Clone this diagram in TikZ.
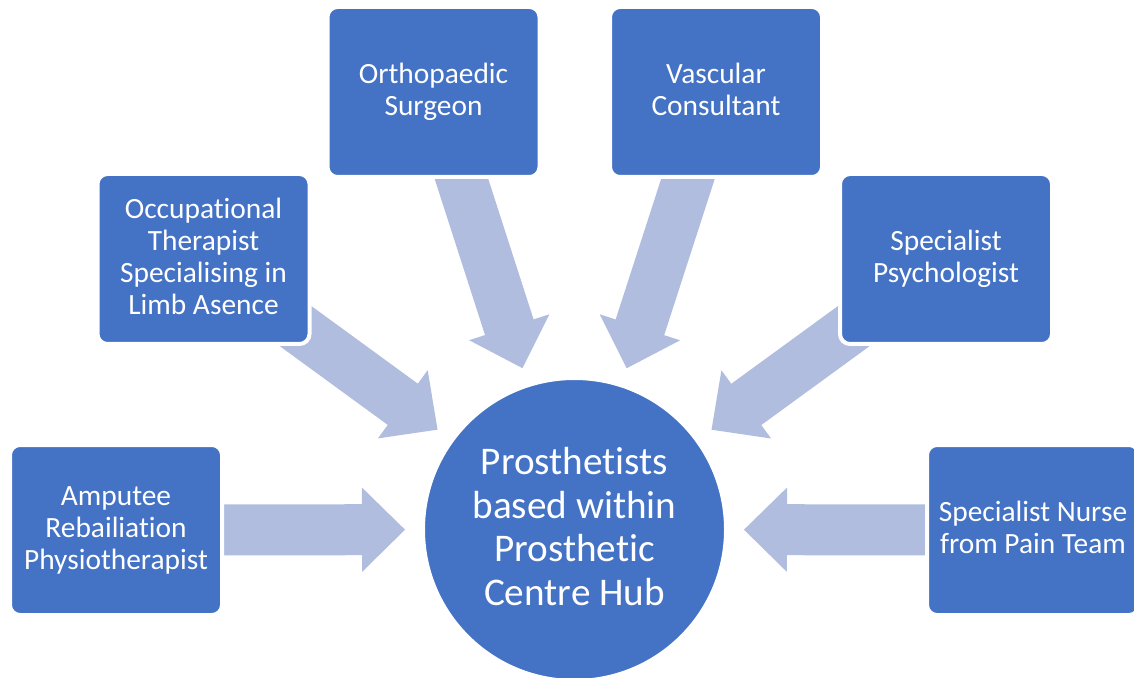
\documentclass[tikz,border=0pt]{standalone}
\usepackage{fontspec}
\setmainfont{Carlito}[Ligatures={NoCommon,NoRequired,NoContextual}]
\usetikzlibrary{arrows.meta}
\pgfdeclarelayer{background}
\pgfsetlayers{background,main}
\definecolor{boxblue}{HTML}{4472C4}
\definecolor{feedblue}{RGB}{176,189,223}
\newcommand{\capstrut}{\vrule height 0.8em depth 0.16em width 0pt}
\tikzset{
  staff/.style={rectangle, rounded corners=5pt, fill=boxblue, draw=white, line width=2pt,
    minimum width=106pt, minimum height=85pt, inner sep=0pt, outer sep=0pt,
    text=white, align=center, font=\fontsize{14.7}{16}\selectfont,
    execute at begin node=\capstrut, execute at end node=\capstrut},
  hub/.style={circle, fill=boxblue, draw=white, line width=2pt, minimum size=151.5pt,
    inner sep=0pt, outer sep=0pt, text=white, align=center,
    font=\fontsize{19.6}{21.75}\selectfont,
    execute at begin node=\capstrut, execute at end node=\capstrut},
  feed/.style={draw=feedblue, line width=25.5pt, shorten <=-10pt, shorten >=9pt,
    -{Triangle[length=21.5pt,width=42pt,line width=1pt]}}
}
\begin{document}
\begin{tikzpicture}[x=0.5pt,y=-0.5pt]
  \useasboundingbox (0,0) rectangle (1134,678);
  % hub and the team round it
  \node[hub] (hub) at (574.5,529.5) {Prosthetists\\based within\\Prosthetic\\Centre Hub};
  \node[staff] (amp) at (116,530) {Amputee\\Rebailiation\\Physiotherapist};
  \node[staff] (occ) at (203.5,259) {Occupational\\Therapist\\Specialising in\\Limb Asence};
  \node[staff] (orth) at (433.5,92) {Orthopaedic\\Surgeon};
  \node[staff] (vasc) at (716,92) {Vascular\\Consultant};
  \node[staff] (psych) at (946,259) {Specialist\\Psychologist};
  \node[staff] (nurse) at (1033,530) {Specialist Nurse\\from Pain Team};
  % arrows behind the boxes
  \begin{pgfonlayer}{background}
    \fill[white] (0,0) rectangle (1134,678);
    \foreach \n in {amp,occ,orth,vasc,psych,nurse}
      \draw[feed] (\n) -- (hub);
  \end{pgfonlayer}
\end{tikzpicture}
\end{document}
